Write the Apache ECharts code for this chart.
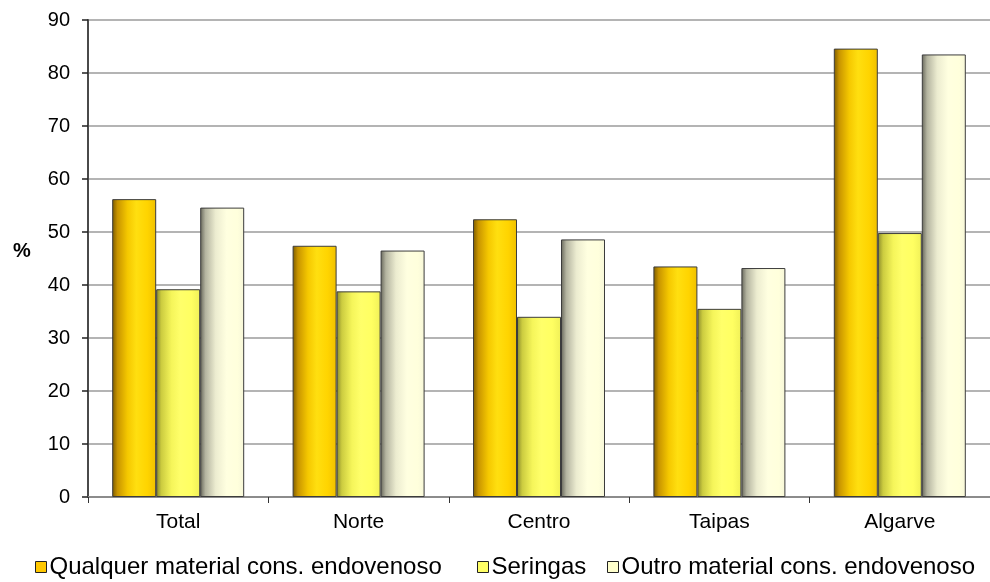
<!DOCTYPE html>
<html>
<head>
<meta charset="utf-8">
<script src="https://cdn.jsdelivr.net/npm/echarts@6/dist/echarts.min.js"></script>
<style>html,body{margin:0;padding:0;background:#fff}#c{width:990px;height:582px}</style>
</head>
<body>
<div id="c"></div>
<script>
const categories = ['Total', 'Norte', 'Centro', 'Taipas', 'Algarve'];
const seriesNames = ['Qualquer material cons. endovenoso', 'Seringas', 'Outro material cons. endovenoso'];
const qualquer = [56.2, 47.4, 52.4, 43.5, 84.6];
const seringas = [39.2, 38.8, 34.0, 35.5, 49.8];
const outro = [54.6, 46.5, 48.6, 43.2, 83.5];
const yTicks = { min: 0, max: 90, interval: 10 };

const FONT = '"Liberation Sans", Arial, sans-serif';

function grad(stops) {
  return new echarts.graphic.LinearGradient(0, 0, 1, 0, stops.map((c) => ({ offset: c[0], color: c[1] })));
}
const fills = [
  grad([[0, '#7a5a00'], [0.12, '#c89400'], [0.35, '#f5c800'], [0.55, '#ffdf10'], [0.8, '#ffd400'], [1, '#f0c000']]),
  grad([[0, '#8a8a2a'], [0.12, '#cccc40'], [0.35, '#f5f55a'], [0.55, '#ffff6a'], [0.8, '#ffff62'], [1, '#f0f058']]),
  grad([[0, '#66665a'], [0.12, '#b4b4a0'], [0.35, '#ececd0'], [0.6, '#ffffe0'], [0.85, '#ffffdc'], [1, '#f6f6d8']])
];
const legendColors = ['#ffc800', '#ffff66', '#ffffcc'];
const dataSets = [qualquer, seringas, outro];
const legendLeft = [35, 477, 607];

const chart = echarts.init(document.getElementById('c'));
chart.setOption({
  animation: false,
  textStyle: { fontFamily: FONT },
  grid: { left: 88, right: -5, top: 20, bottom: 85 },
  graphic: [{
    type: 'text', left: 13, top: 241,
    style: { text: '%', fontFamily: FONT, fontSize: 20, fontWeight: 'bold', fill: '#000' }
  }],
  legend: seriesNames.map((n, i) => ({
    left: legendLeft[i], top: 555, padding: 0,
    itemWidth: 11, itemHeight: 11, itemGap: 0,
    textStyle: { fontFamily: FONT, fontSize: 24, color: '#000', padding: [0, 0, 0, -2] },
    data: [{ name: n, icon: 'rect', itemStyle: { color: legendColors[i], borderColor: '#222', borderWidth: 1 } }]
  })),
  xAxis: {
    type: 'category',
    data: categories,
    axisLine: { lineStyle: { color: '#8c8c8c', width: 2 } },
    axisTick: { show: true, length: 6, lineStyle: { color: '#333', width: 1 } },
    axisLabel: { color: '#000', fontSize: 21, margin: 15, fontFamily: FONT }
  },
  yAxis: {
    type: 'value',
    min: yTicks.min, max: yTicks.max, interval: yTicks.interval,
    axisLine: { show: true, lineStyle: { color: '#4a4a4a', width: 2 } },
    axisTick: { show: true, length: 6, lineStyle: { color: '#222', width: 1.5 } },
    axisLabel: { color: '#000', fontSize: 20, margin: 18, fontFamily: FONT },
    splitLine: { lineStyle: { color: '#b4b4b4', width: 2 } }
  },
  series: seriesNames.map((n, i) => ({
    name: n,
    type: 'bar',
    data: dataSets[i],
    barWidth: 44,
    barGap: '0%',
    itemStyle: { color: fills[i], borderColor: '#3c3c3c', borderWidth: 1 }
  }))
});
</script>
</body>
</html>
